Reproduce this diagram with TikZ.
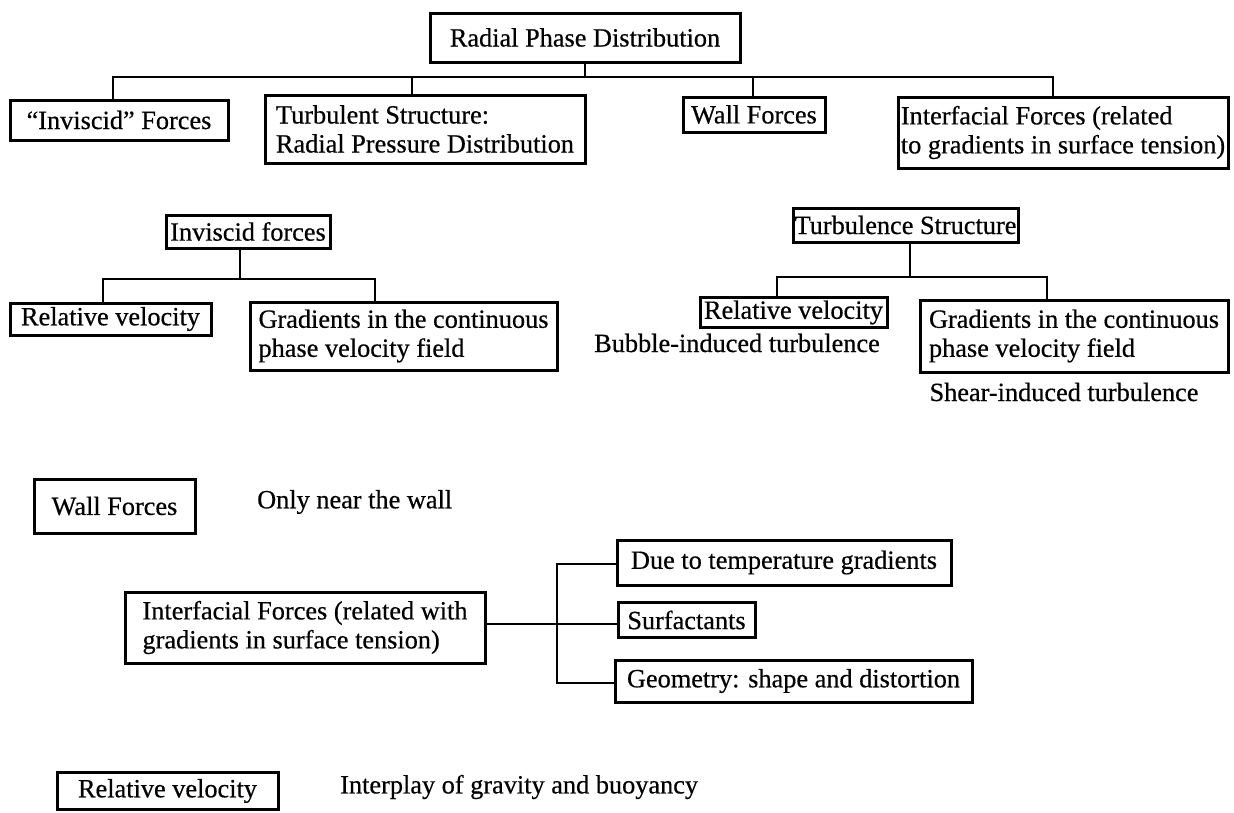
\documentclass[tikz,border=0pt]{standalone}
\usepackage{fontspec}
\setmainfont{Liberation Serif}
\newfontfamily\heavyserif{Liberation Serif}[Ligatures=TeX,FakeBold=0.5]
\begin{document}
\begin{tikzpicture}[x=1pt,y=-1pt,
  every node/.style={font=\heavyserif\fontsize{26.3}{29}\selectfont},
  bx/.style={draw, line width=3pt, inner sep=0pt},
  ln/.style={line width=2.6pt, line join=miter},
  lbl/.style={inner sep=0pt}]
\useasboundingbox (0,0) rectangle (1234,812);

% ---------- top tree ----------
\node[bx, minimum width=310pt, minimum height=49pt] (rpd) at (585,37.5) {Radial Phase Distribution};
\node[bx, minimum width=218pt, minimum height=40pt] (inv) at (119,120) {“Inviscid” Forces};
\node[bx, align=left, minimum width=320pt, minimum height=68pt] (turb) at (425,129) {Turbulent Structure:\\Radial Pressure Distribution};
\node[bx, minimum width=142pt, minimum height=35pt] (wall) at (754,114.5) {Wall Forces};
\node[bx, align=left, minimum width=330pt, minimum height=71pt] (intf) at (1063,132.5) {Interfacial Forces (related\\to gradients in surface tension)};

\coordinate (t0) at (585,77);
\coordinate (t1) at (113,77);
\coordinate (t2) at (412,77);
\coordinate (t3) at (753,77);
\coordinate (t4) at (1053,77);
\draw[ln] (rpd.south) -- (t0);
\draw[ln] (t1 |- inv.north) -- (t1) -- (t4) -- (t4 |- intf.north);
\draw[ln] (t2) -- (t2 |- turb.north);
\draw[ln] (t3) -- (t3 |- wall.north);

% ---------- inviscid forces tree ----------
\node[bx, minimum width=164pt, minimum height=33pt] (invf) at (248,231.5) {Inviscid forces};
\node[bx, minimum width=201pt, minimum height=32pt] (relv1) at (110.5,319) {Relative velocity};
\node[bx, align=left, minimum width=307pt, minimum height=68pt] (grad1) at (403.5,336) {Gradients in the continuous\\phase velocity field};

\coordinate (m0) at (240,279);
\coordinate (m1) at (103,279);
\coordinate (m2) at (375,279);
\draw[ln] (m0 |- invf.south) -- (m0);
\draw[ln] (m1 |- relv1.north) -- (m1) -- (m2) -- (m2 |- grad1.north);

% ---------- turbulence structure tree ----------
\node[bx, minimum width=225pt, minimum height=34pt] (turbs) at (905.5,225) {Turbulence Structure};
\node[bx, minimum width=187pt, minimum height=30pt] (relv2) at (793.5,312.5) {Relative velocity};
\node[bx, align=left, minimum width=308pt, minimum height=72pt] (grad2) at (1074,336) {Gradients in the continuous\\phase velocity field};
\node[lbl] (bub) at (737,343) {Bubble-induced turbulence};
\node[lbl] (shear) at (1064,392) {Shear-induced turbulence};

\coordinate (n0) at (910,277);
\coordinate (n1) at (777,277);
\coordinate (n2) at (1047,277);
\draw[ln] (n0 |- turbs.south) -- (n0);
\draw[ln] (n1 |- relv2.north) -- (n1) -- (n2) -- (n2 |- grad2.north);

% ---------- wall forces ----------
\node[bx, minimum width=161pt, minimum height=54pt] (wall2) at (114.5,506) {Wall Forces};
\node[lbl, anchor=west] (near) at (257,502) {Only near the wall};

% ---------- interfacial forces tree ----------
\node[bx, align=left, minimum width=360pt, minimum height=71pt] (intf2) at (305,627.5) {Interfacial Forces (related with\\gradients in surface tension)};
\node[bx, minimum width=334pt, minimum height=45pt] (due) at (784,562.5) {Due to temperature gradients};
\node[bx, minimum width=137pt, minimum height=35pt] (surf) at (686.5,620) {Surfactants};
\node[bx, minimum width=357pt, minimum height=42pt] (geom) at (793.5,681) {Geometry: shape and distortion};

\coordinate (s1) at (557,564);
\coordinate (s2) at (557,624);
\coordinate (s3) at (557,683);
\draw[ln] (s1 -| due.west) -- (s1) -- (s3) -- (s3 -| geom.west);
\draw[ln] (s2 -| intf2.east) -- (s2 -| surf.west);

% ---------- relative velocity ----------
\node[bx, minimum width=221pt, minimum height=37pt] (relv3) at (167.5,791) {Relative velocity};
\node[lbl, anchor=west] (inter) at (340,787) {Interplay of gravity and buoyancy};
\end{tikzpicture}
\end{document}
